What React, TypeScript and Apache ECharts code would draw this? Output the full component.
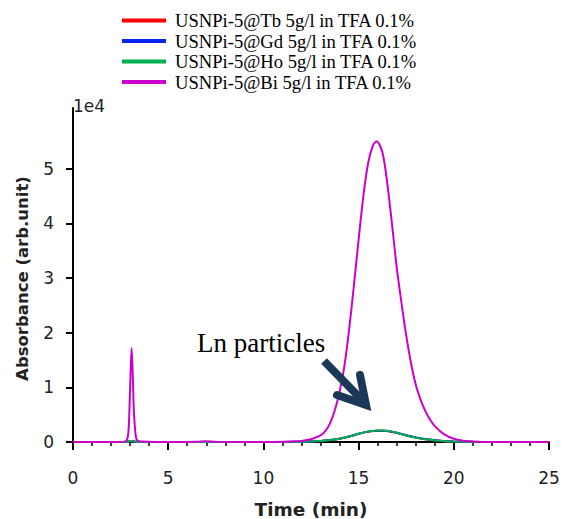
import React, { useEffect, useRef } from "react";
import * as echarts from "echarts";

// Time (min) and absorbance (in units of 1e4)
const biTime = [0, 2.5, 2.8, 2.9, 2.95, 3.0, 3.08, 3.15, 3.2, 3.3, 3.4, 3.6, 5, 6.5, 7, 7.5, 10, 11.5, 12, 12.5, 13, 13.25, 13.5, 13.75, 14, 14.25, 14.5, 14.75, 15, 15.25, 15.5, 15.75, 15.95, 16.25, 16.5, 16.75, 17, 17.25, 17.5, 17.75, 18, 18.25, 18.5, 18.75, 19, 19.5, 20, 20.5, 21, 22, 25];
const biValues = [0, 0, 0.02, 0.15, 0.45, 1.0, 1.72, 1.1, 0.55, 0.1, 0.02, 0.01, 0, 0.005, 0.015, 0.005, 0, 0.01, 0.02, 0.05, 0.12, 0.2, 0.34, 0.58, 0.92, 1.38, 2.05, 2.85, 3.7, 4.5, 5.1, 5.42, 5.5, 5.3, 4.75, 4.0, 3.2, 2.55, 1.95, 1.45, 1.05, 0.78, 0.57, 0.41, 0.29, 0.14, 0.06, 0.025, 0.01, 0, 0];

const lnTime = [0, 2.7, 2.9, 3.1, 3.3, 3.5, 10, 12, 13, 13.5, 14, 14.5, 15, 15.5, 16, 16.25, 16.5, 17, 17.5, 18, 18.5, 19, 19.5, 20, 21, 22, 25];
const tbValues = [0, 0, 0.01, 0.015, 0.005, 0, 0, 0.005, 0.02, 0.035, 0.06, 0.1, 0.15, 0.19, 0.205, 0.205, 0.2, 0.165, 0.12, 0.08, 0.05, 0.03, 0.015, 0.008, 0.003, 0, 0];
const gdValues = [0, 0, 0.01, 0.015, 0.005, 0, 0, 0.005, 0.02, 0.035, 0.06, 0.1, 0.15, 0.19, 0.205, 0.205, 0.2, 0.17, 0.125, 0.085, 0.055, 0.033, 0.017, 0.009, 0.003, 0, 0];
const hoValues = [0, 0, 0.01, 0.02, 0.005, 0, 0, 0.005, 0.02, 0.035, 0.06, 0.1, 0.15, 0.19, 0.21, 0.212, 0.205, 0.17, 0.12, 0.08, 0.05, 0.03, 0.015, 0.008, 0.003, 0, 0];

const seriesNames = [
  "USNPi-5@Tb 5g/l in TFA 0.1%",
  "USNPi-5@Gd 5g/l in TFA 0.1%",
  "USNPi-5@Ho 5g/l in TFA 0.1%",
  "USNPi-5@Bi 5g/l in TFA 0.1%",
];
const seriesColors = ["#ff0000", "#0a22f2", "#00b050", "#cc00cc"];
const yTicks = [0, 1, 2, 3, 4, 5];

const zip = (xs: number[], ys: number[]) => xs.map((x, i) => [x, ys[i]]);

export default function App() {
  const ref = useRef<HTMLDivElement>(null);
  useEffect(() => {
    if (!ref.current) return;
    const chart = echarts.init(ref.current, undefined, { renderer: "svg" });
    const sData = [zip(lnTime, tbValues), zip(lnTime, gdValues), zip(lnTime, hoValues), zip(biTime, biValues)];
    const axisFont = { fontFamily: "DejaVu Sans", fontSize: 17, color: "#222" };
    chart.setOption({
      animation: false,
      backgroundColor: "#ffffff",
      grid: { left: 73, right: 20, top: 108, bottom: 70, outerBoundsMode: "none", containLabel: false },
      legend: {
        orient: "vertical",
        left: 122,
        top: 11,
        padding: 0,
        icon: "rect",
        itemWidth: 44,
        itemHeight: 4,
        itemGap: 1.5,
        textStyle: { fontFamily: "Liberation Serif", fontSize: 18.6, color: "#000", lineHeight: 18, padding: [0, 0, 0, 4] },
        data: seriesNames,
      },
      xAxis: {
        type: "value",
        min: 0,
        max: 25,
        interval: 5,
        name: "Time (min)",
        nameLocation: "middle",
        nameGap: 51,
        nameTextStyle: { ...axisFont, fontSize: 18.5, fontWeight: "bold" },
        axisLine: { show: true, lineStyle: { color: "#000", width: 2 } },
        axisTick: { show: true, length: 8, lineStyle: { color: "#000", width: 2 } },
        minorTick: { show: true, splitNumber: 5, length: 4, lineStyle: { color: "#000", width: 1.5 } },
        axisLabel: { ...axisFont, margin: 20 },
        splitLine: { show: false },
        minorSplitLine: { show: false },
      },
      yAxis: {
        type: "value",
        min: -0.128,
        max: 6.11,
        name: "Absorbance (arb.unit)",
        nameLocation: "middle",
        nameGap: 42,
        nameRotate: 90,
        nameTextStyle: { ...axisFont, fontSize: 16.5, fontWeight: "bold" },
        axisLine: { show: true, lineStyle: { color: "#000", width: 2 } },
        axisTick: { show: true, length: 7, customValues: yTicks, lineStyle: { color: "#000", width: 2 } },
        axisLabel: { ...axisFont, margin: 19, customValues: yTicks, formatter: (v: number) => String(Math.round(v)) },
        splitLine: { show: false },
      },
      series: seriesNames.map((name, i) => ({
        name,
        type: "line",
        data: sData[i],
        smooth: 0.3,
        showSymbol: false,
        symbol: "none",
        color: seriesColors[i],
        lineStyle: { color: seriesColors[i], width: 2 },
        z: 2 + i,
      })),
      graphic: [
        { type: "text", left: 73, top: 97, style: { text: "1e4", fontFamily: "DejaVu Sans", fontSize: 17, fill: "#222" } },
        { type: "text", left: 197, top: 329, style: { text: "Ln particles", fontFamily: "Liberation Serif", fontSize: 27, fill: "#000" } },
        { type: "polyline", shape: { points: [[324, 361], [364, 402]] }, style: { stroke: "#1c3859", lineWidth: 8, fill: null, lineCap: "butt" }, z: 100 },
        { type: "polyline", shape: { points: [[337, 395], [366, 405], [360, 375]] }, style: { stroke: "#1c3859", lineWidth: 8, fill: null, lineJoin: "miter", lineCap: "round" }, z: 100 },
      ],
    });
    return () => chart.dispose();
  }, []);
  return <div ref={ref} style={{ position: "fixed", left: 0, top: 0, width: 569, height: 519 }} />;
}
